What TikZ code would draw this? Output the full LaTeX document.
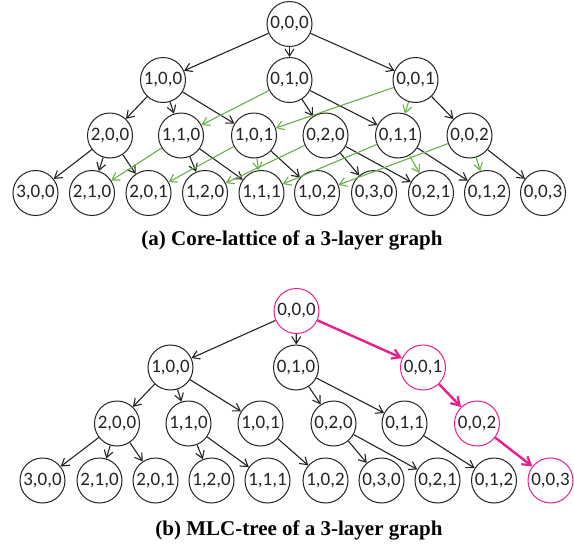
\documentclass[tikz,border=0pt]{standalone}
\usepackage{fontspec}
\setmainfont{Liberation Serif}
\newfontfamily\nodefont{Carlito}
\usetikzlibrary{arrows.meta}
\definecolor{latgreen}{RGB}{106,176,72}
\definecolor{mlcpink}{RGB}{232,30,140}
\definecolor{inkgray}{RGB}{35,35,35}
\tikzset{
  st/.style={circle, draw=inkgray, line width=1pt, minimum size=45pt, inner sep=0pt,
             text=inkgray, font=\nodefont\fontsize{19}{19}\selectfont},
  hl/.style={st, draw=mlcpink},
  tree/.style={draw=inkgray, line width=1.1pt,
               -{Straight Barb[length=7pt,width=9pt,line width=1.1pt]}},
  extra/.style={tree, draw=latgreen},
  path/.style={line width=2.4pt, draw=mlcpink,
               -{Straight Barb[length=8pt,width=10pt,line width=2.2pt]}},
  caption/.style={font=\bfseries\fontsize{21}{21}\selectfont}
}
\begin{document}
\begin{tikzpicture}[x=1pt,y=-1pt]
\useasboundingbox (0,0) rectangle (574,552);

% ---------- (a) core lattice ----------
\node[st] (a000) at (289.5,24) {0,0,0};
\node[st] (a100) at (163,80) {1,0,0};
\node[st] (a010) at (289.5,80) {0,1,0};
\node[st] (a001) at (415.5,80) {0,0,1};
\node[st] (a200) at (110,135.5) {2,0,0};
\node[st] (a110) at (181,135.5) {1,1,0};
\node[st] (a101) at (254,135.5) {1,0,1};
\node[st] (a020) at (325.5,135.5) {0,2,0};
\node[st] (a011) at (398,135.5) {0,1,1};
\node[st] (a002) at (469.5,135.5) {0,0,2};
\node[st] (a300) at (35.5,193) {3,0,0};
\node[st] (a210) at (92,193) {2,1,0};
\node[st] (a201) at (148.5,193) {2,0,1};
\node[st] (a120) at (205,193) {1,2,0};
\node[st] (a111) at (261.5,193) {1,1,1};
\node[st] (a102) at (317,193) {1,0,2};
\node[st] (a030) at (374,193) {0,3,0};
\node[st] (a021) at (431,193) {0,2,1};
\node[st] (a012) at (487,193) {0,1,2};
\node[st] (a003) at (543,193) {0,0,3};

% spanning-tree edges
\foreach \s/\t in {a000/a100,a000/a010,a000/a001,
                   a100/a200,a100/a110,a100/a101,
                   a010/a020,a010/a011,a001/a002,
                   a200/a300,a200/a210,a200/a201,
                   a110/a120,a110/a111,a101/a102,
                   a020/a030,a020/a021,a011/a012,a002/a003}
  \draw[tree] (\s) -- (\t);

% remaining lattice edges
\foreach \s/\t in {a010/a110,a001/a101,a001/a011,
                   a110/a210,a101/a201,a101/a111,
                   a020/a120,a011/a111,a011/a021,
                   a002/a102,a002/a012}
  \draw[extra] (\s) -- (\t);

\node[caption] (capa) at (292,240) {(a) Core-lattice of a 3-layer graph};

% ---------- (b) MLC tree ----------
\node[hl] (b000) at (296.5,311) {0,0,0};
\node[st] (b100) at (170.5,367.5) {1,0,0};
\node[st] (b010) at (296,367.5) {0,1,0};
\node[hl] (b001) at (423,367.5) {0,0,1};
\node[st] (b200) at (117,423.5) {2,0,0};
\node[st] (b110) at (188.5,423.5) {1,1,0};
\node[st] (b101) at (260.5,423.5) {1,0,1};
\node[st] (b020) at (333.5,423.5) {0,2,0};
\node[st] (b011) at (404.5,423.5) {0,1,1};
\node[hl] (b002) at (477,423.5) {0,0,2};
\node[st] (b300) at (42.5,480.5) {3,0,0};
\node[st] (b210) at (99.5,480.5) {2,1,0};
\node[st] (b201) at (155.5,480.5) {2,0,1};
\node[st] (b120) at (211.5,480.5) {1,2,0};
\node[st] (b111) at (267.5,480.5) {1,1,1};
\node[st] (b102) at (325.5,480.5) {1,0,2};
\node[st] (b030) at (381.5,480.5) {0,3,0};
\node[st] (b021) at (437.5,480.5) {0,2,1};
\node[st] (b012) at (494,480.5) {0,1,2};
\node[hl] (b003) at (550.5,480.5) {0,0,3};

\foreach \s/\t in {b000/b100,b000/b010,
                   b100/b200,b100/b110,b100/b101,
                   b010/b020,b010/b011,
                   b200/b300,b200/b210,b200/b201,
                   b110/b120,b110/b111,b101/b102,
                   b020/b030,b020/b021,b011/b012}
  \draw[tree] (\s) -- (\t);

% highlighted chain
\draw[path] (b000) -- (b001);
\draw[path] (b001) -- (b002);
\draw[path] (b002) -- (b003);

\node[caption] (capb) at (299,530) {(b) MLC-tree of a 3-layer graph};
\end{tikzpicture}
\end{document}
